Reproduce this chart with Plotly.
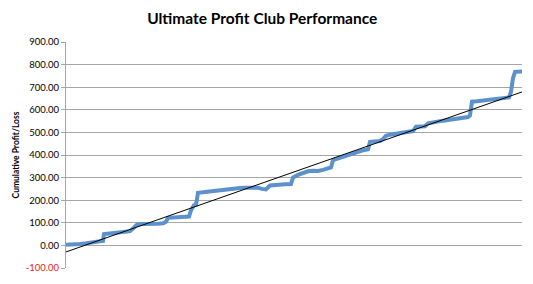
import numpy as np
import plotly.graph_objects as go

# Trade index (order of trades) and cumulative profit/loss
trades = [0, 4, 9, 14, 19, 24, 29, 34, 37, 38, 44, 49, 54, 59, 64, 67, 71, 76, 82, 87, 92, 97,
          100, 102, 109, 114, 119, 123, 125, 128, 130, 132, 137, 142, 147, 154, 159, 164, 169,
          174, 179, 184, 189, 192, 196, 200, 204, 209, 214, 219, 225, 227, 232, 237, 242, 247,
          252, 257, 263, 265, 267, 272, 277, 282, 287, 292, 296, 302, 304, 309, 314, 317, 320,
          324, 329, 334, 339, 344, 347, 350, 354, 359, 362, 367, 372, 377, 382, 387, 392, 397,
          402, 404, 406, 411, 416, 421, 426, 431, 436, 441, 443, 445, 447, 449, 452, 456]
cum_pl = [3, 5, 4, 6, 8, 10, 15, 18, 20, 50, 53, 56, 58, 60, 63, 75, 92, 95, 94, 95, 96, 98,
          105, 122, 125, 127, 128, 128, 155, 178, 180, 233, 235, 238, 240, 243, 244, 250, 253,
          254, 255, 256, 257, 255, 250, 248, 265, 268, 270, 271, 272, 300, 312, 320, 328, 330,
          329, 334, 340, 345, 377, 385, 392, 398, 405, 415, 420, 425, 458, 460, 462, 470, 485,
          490, 493, 498, 502, 505, 506, 525, 526, 527, 540, 545, 548, 552, 555, 558, 562, 565,
          568, 575, 636, 638, 640, 642, 645, 648, 650, 652, 655, 680, 740, 768, 770, 770]

# Linear trend line endpoints
trend_x = [0, 456]
trend_y = [-29, 679]

y_ticks = [-100, 0, 100, 200, 300, 400, 500, 600, 700, 800, 900]
y_ticktext = ['<span style="color:#e8241e">-100.00</span>'] + [f"{v:.2f}" for v in y_ticks[1:]]

fig = go.Figure()
fig.add_trace(go.Scatter(x=trades, y=cum_pl, mode="lines",
                         line=dict(color="#5b91cc", width=4), showlegend=False))
fig.add_trace(go.Scatter(x=trend_x, y=trend_y, mode="lines",
                         line=dict(color="#000000", width=1), showlegend=False))

fig.update_layout(
    width=533, height=284,
    margin=dict(l=66, r=11, t=42, b=12),
    paper_bgcolor="white", plot_bgcolor="white",
    title=dict(text="<b>Ultimate Profit Club Performance</b>", x=0.492, xanchor="center",
               y=0.935, yanchor="middle",
               font=dict(family="Lato", size=15.5, color="#000000")),
    xaxis=dict(range=[0, 456], showgrid=False, showticklabels=False, zeroline=False,
               showline=False, ticks=""),
    yaxis=dict(range=[-100, 900], tickvals=y_ticks, ticktext=y_ticktext,
               showgrid=True, gridcolor="#a6a6a6", gridwidth=1, zeroline=False,
               showline=True, linecolor="#a6a6a6", linewidth=1,
               ticks="outside", ticklen=4, tickcolor="#a6a6a6",
               tickfont=dict(family="Lato", size=9.5, color="#000000"),
               title=dict(text="<b>Cumulative Profit/Loss</b>", standoff=4,
                          font=dict(family="Lato", size=8.5, color="#000000"))),
    font=dict(family="Lato"),
)

fig.write_html("out.html")
